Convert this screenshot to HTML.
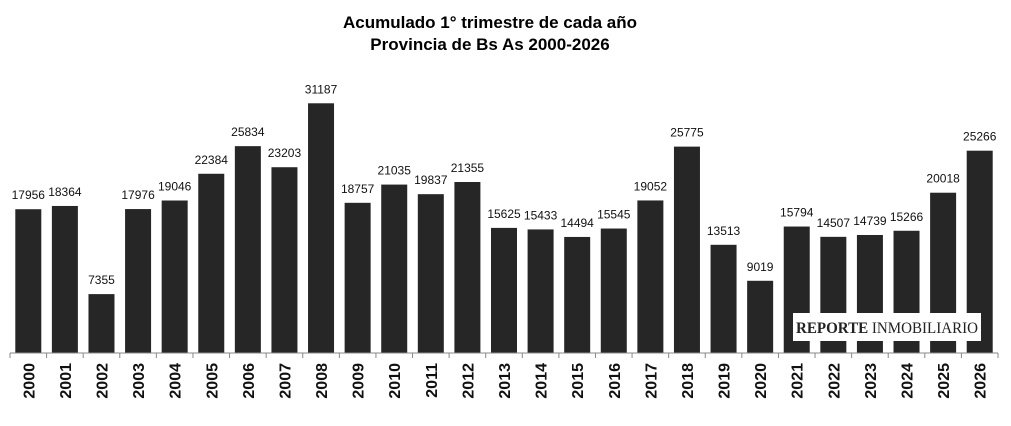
<!DOCTYPE html>
<html><head><meta charset="utf-8"><style>
html,body{margin:0;padding:0;background:#fff;}
svg{display:block;}
</style></head><body>
<svg width="1011" height="426" xmlns="http://www.w3.org/2000/svg">
<rect width="1011" height="426" fill="#fff"/>
<text x="490" y="28" text-anchor="middle" font-family="Liberation Sans, sans-serif" font-weight="bold" font-size="17">Acumulado 1° trimestre de cada año</text>
<text x="490" y="50" text-anchor="middle" font-family="Liberation Sans, sans-serif" font-weight="bold" font-size="17">Provincia de Bs As 2000-2026</text>
<g id="bars"></g>
<line x1="10" y1="353" x2="998" y2="353" stroke="#888" stroke-width="1"/>
<g id="ticks"></g>
<rect x="793" y="313" width="188" height="28" fill="#fff"/>
<text x="796" y="333" font-family="Liberation Serif, serif" font-size="16" fill="#222" textLength="182" lengthAdjust="spacingAndGlyphs"><tspan font-weight="bold">REPORTE</tspan> INMOBILIARIO</text>
<script>
var v=[17956,18364,7355,17976,19046,22384,25834,23203,31187,18757,21035,19837,21355,15625,15433,14494,15545,19052,25775,13513,9019,15794,14507,14739,15266,20018,25266];
var ns="http://www.w3.org/2000/svg",b=document.getElementById("bars"),t=document.getElementById("ticks");
var w=988/27,s=0.008007;
function el(n,a,p,txt){var e=document.createElementNS(ns,n);for(var k in a)e.setAttribute(k,a[k]);if(txt)e.textContent=txt;p.appendChild(e);return e;}
for(var i=0;i<27;i++){
 var cx=10+w*(i+0.5),h=v[i]*s;
 el("rect",{x:cx-13,y:353-h,width:26,height:h,fill:"#262626"},b);
 el("text",{x:cx,y:353-h-10,"text-anchor":"middle","font-family":"Liberation Sans, sans-serif","font-size":"12",fill:"#111"},b,String(v[i]));
 el("text",{x:0,y:0,transform:"translate("+(cx+6)+",363) rotate(-90)","text-anchor":"end","font-family":"Liberation Sans, sans-serif","font-size":"16","font-weight":"bold",fill:"#111"},b,String(2000+i));
}
for(var i=0;i<=27;i++){var x=10+w*i;el("line",{x1:x,y1:353,x2:x,y2:358,stroke:"#888"},t);}
</script>
</svg>
</body></html>
